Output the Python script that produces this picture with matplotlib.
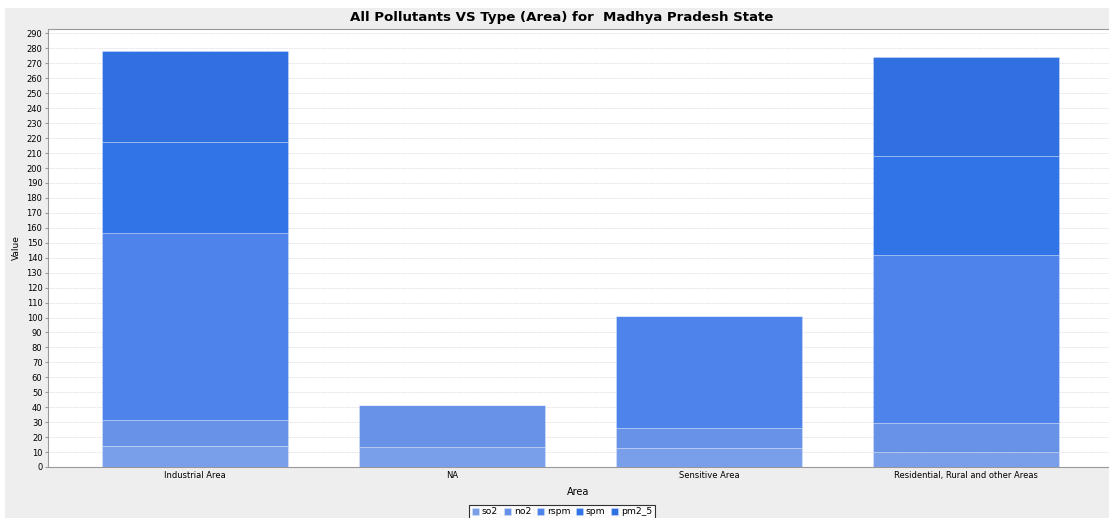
import numpy as np
import matplotlib.pyplot as plt
from matplotlib.patches import Rectangle

# Data
areas = ['Industrial Area', 'NA', 'Sensitive Area', 'Residential, Rural and other Areas']
pollutants = ['so2', 'no2', 'rspm', 'spm', 'pm2_5']
so2 = [14.0, 13.4, 12.7, 10.2]
no2 = [17.4, 28.0, 13.1, 19.4]
rspm = [125.0, 0.0, 74.9, 112.2]
spm = [61.0, 0.0, 0.0, 66.4]
pm2_5 = [61.0, 0.0, 0.0, 66.3]

colors = ['#7a9fea', '#6892e6', '#4d83ea', '#3074e8', '#3070e0']
series = [so2, no2, rspm, spm, pm2_5]

fig = plt.figure(figsize=(11.09, 5.18), dpi=100)
fig.patch.set_facecolor('white')
# light grey chart panel (JFreeChart style)
fig.patches.append(Rectangle((5 / 1109, 0), 1, 1 - 8 / 518, transform=fig.transFigure,
                             facecolor='#eeeeee', edgecolor='none', zorder=-10))

W, H = 1109, 518
left, right, top, bottom = 48, 1109, 29, 467
ax = fig.add_axes([left / W, 1 - bottom / H, (right - left) / W, (bottom - top) / H])
ax.set_facecolor('white')

x = np.arange(len(areas))
base = np.zeros(len(areas))
for name, vals, c in zip(pollutants, series, colors):
    vals = np.array(vals)
    ax.bar(x, vals, width=0.724, bottom=base, color=c, label=name,
           edgecolor=(1, 1, 1, 0.3), linewidth=0.6, zorder=3)
    base = base + vals

ax.set_xlim(-0.572, 3.556)
ax.set_ylim(0, 293)
ax.set_yticks(np.arange(0, 300, 10))
ax.yaxis.grid(True, color='#d4d4d4', linestyle=(0, (2, 1.5)), linewidth=0.5, zorder=0)
ax.set_xticks(x)
ax.set_xticklabels(areas, fontsize=6)
ax.tick_params(axis='y', labelsize=6, length=2, color='#999999', pad=2)
ax.tick_params(axis='x', length=0, pad=3)

for side in ['left', 'bottom', 'top']:
    ax.spines[side].set_color('#999999')
    ax.spines[side].set_linewidth(0.8)
ax.spines['right'].set_visible(False)

ax.set_xlabel('Area', fontsize=7, labelpad=5)
ax.set_ylabel('Value', fontsize=6.5, labelpad=4)

fig.text(562 / W, 1 - 17 / H, 'All Pollutants VS Type (Area) for  Madhya Pradesh State',
         ha='center', va='center', fontsize=9.6, fontweight='bold')

leg = fig.legend(loc='center', bbox_to_anchor=(562 / W, 1 - 512 / H), ncol=5,
                 fontsize=6.6, frameon=True, fancybox=False, handlelength=0.8,
                 handleheight=0.8, handletextpad=0.3, columnspacing=0.6,
                 borderpad=0.3)
leg.get_frame().set_edgecolor('black')
leg.get_frame().set_linewidth(0.8)
leg.get_frame().set_facecolor('white')

fig.savefig('out.png', dpi=100, facecolor=fig.get_facecolor())
